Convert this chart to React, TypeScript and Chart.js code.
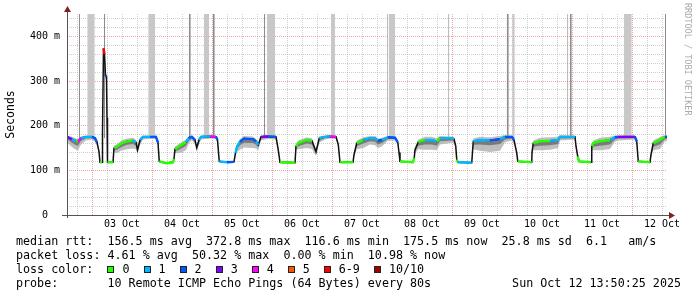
import React, { useEffect, useRef } from 'react';
import { Chart, registerables } from 'chart.js';

Chart.register(...registerables);

// ---- time axis (hours since 02 Oct 00:00) ----
const X_MIN = 14;
const X_MAX = 254;
const Y_MAX = 450;

// median rtt samples (ms) with loss class index
const hours = [
  14.0, 16.0, 17.6, 18.4, 19.6, 21.6, 24.0, 25.2, 26.0, 26.8,
  27.2, 28.0, 28.2, 28.6, 29.0, 29.4, 29.8, 30.0, 30.2, 32.4,
  32.8, 34.0, 36.0, 38.0, 40.4, 41.6, 42.2, 43.2, 44.4, 47.2,
  49.6, 50.4, 50.9, 53.6, 56.4, 56.8, 57.2, 59.2, 61.6, 62.8,
  64.0, 65.2, 65.9, 66.8, 67.6, 71.2, 73.6, 74.2, 74.9, 78.0,
  80.8, 81.4, 82.0, 83.2, 84.8, 88.4, 89.6, 90.5, 91.6, 94.4,
  97.6, 98.5, 99.2, 105.2, 105.6, 106.5, 109.9, 112.0, 113.6, 114.9,
  117.2, 119.2, 121.6, 122.5, 123.2, 128.4, 128.8, 129.9, 132.5, 135.2,
  137.2, 138.4, 140.0, 142.4, 145.2, 146.3, 146.8, 147.2, 152.4, 152.9,
  153.2, 154.5, 157.2, 159.9, 161.9, 163.2, 168.0, 168.8, 169.5, 169.9,
  170.4, 175.9, 176.5, 179.2, 183.2, 187.2, 189.2, 192.0, 192.8, 193.9,
  194.3, 199.9, 200.0, 200.5, 203.2, 207.2, 210.4, 211.2, 217.2, 217.6,
  218.3, 218.8, 223.6, 223.9, 224.5, 227.2, 231.2, 233.2, 234.4, 241.2,
  241.9, 242.5, 247.2, 247.6, 248.5, 251.2, 253.2, 254.0,
];
const median = [
  175, 170, 166, 165, 172, 175, 175, 172, 163, 142,
  118, 118, 184, 373, 360, 312, 310, 218, 118, 118,
  150, 153, 161, 165, 167, 163, 146, 168, 175, 175,
  175, 162, 120, 116, 118, 126, 148, 155, 163, 173,
  175, 168, 151, 168, 175, 176, 175, 168, 120, 118,
  119, 139, 153, 164, 171, 170, 165, 157, 175, 176,
  175, 146, 118, 117, 154, 161, 168, 166, 142, 172,
  175, 176, 175, 158, 118, 118, 135, 161, 168, 172,
  172, 166, 168, 174, 173, 163, 140, 120, 118, 128,
  146, 163, 168, 168, 165, 172, 172, 170, 154, 124,
  118, 117, 165, 168, 167, 170, 175, 175, 168, 139,
  120, 118, 140, 161, 165, 166, 168, 175, 175, 154,
  131, 120, 118, 154, 161, 165, 168, 174, 175, 175,
  165, 120, 118, 135, 161, 168, 175, 175,
];
const loss = [
  3, 1, 0, 4, 1, 1, 2, 2, 0, 0,
  0, 0, 4, 6, 6, 2, 2, 0, 0, 1,
  0, 0, 0, 0, 1, 1, 0, 1, 1, 2,
  2, 0, 0, 0, 0, 0, 0, 0, 1, 2,
  2, 1, 2, 1, 1, 4, 2, 2, 1, 2,
  1, 1, 1, 2, 2, 2, 1, 1, 3, 2,
  1, 0, 0, 0, 0, 0, 0, 1, 1, 1,
  1, 4, 1, 0, 0, 0, 0, 0, 1, 1,
  1, 2, 1, 2, 2, 0, 0, 0, 0, 0,
  0, 0, 1, 1, 0, 1, 1, 1, 0, 0,
  1, 1, 1, 1, 2, 1, 2, 2, 2, 0,
  0, 0, 0, 0, 0, 1, 1, 1, 2, 2,
  0, 0, 0, 0, 0, 0, 1, 2, 3, 2,
  0, 0, 0, 0, 0, 0, 2, 2,
];
// smoke spread around the median (ms)
const smokeUp = [
  3, 5, 5, 5, 4, 3, 3, 3, 3, 2,
  2, 2, 4, 4, 4, 4, 4, 3, 2, 2,
  5, 6, 7, 6, 6, 5, 5, 5, 3, 3,
  3, 3, 2, 2, 2, 2, 5, 6, 6, 4,
  3, 4, 4, 4, 3, 3, 3, 3, 2, 2,
  2, 3, 5, 6, 6, 6, 5, 5, 3, 3,
  3, 3, 2, 2, 4, 6, 6, 6, 5, 4,
  3, 3, 3, 3, 2, 2, 3, 6, 6, 5,
  5, 5, 5, 3, 3, 3, 2, 2, 2, 2,
  4, 6, 7, 7, 7, 5, 4, 4, 3, 2,
  2, 2, 6, 7, 7, 7, 4, 3, 3, 2,
  2, 2, 3, 6, 8, 8, 7, 4, 3, 3,
  2, 2, 2, 4, 6, 8, 7, 4, 3, 3,
  3, 2, 2, 3, 6, 7, 4, 4,
];
const smokeDown = [
  12, 18, 20, 20, 14, 8, 6, 8, 8, 4,
  2, 2, 4, 8, 8, 8, 8, 4, 2, 2,
  10, 14, 16, 18, 18, 16, 10, 12, 6, 5,
  5, 6, 2, 2, 2, 3, 10, 16, 18, 12,
  8, 10, 10, 10, 6, 5, 5, 6, 2, 2,
  2, 6, 12, 18, 20, 20, 16, 12, 8, 6,
  6, 6, 2, 2, 8, 14, 18, 18, 10, 10,
  6, 5, 5, 5, 2, 2, 6, 14, 18, 14,
  16, 16, 14, 8, 6, 6, 4, 2, 2, 4,
  8, 16, 22, 22, 20, 14, 10, 8, 6, 3,
  2, 2, 18, 24, 26, 26, 12, 8, 8, 4,
  2, 2, 6, 16, 20, 20, 18, 8, 6, 6,
  4, 2, 2, 8, 16, 20, 20, 10, 8, 6,
  6, 2, 2, 6, 16, 20, 10, 10,
];
const coreDown = [
  5, 8, 10, 10, 6, 3, 3, 4, 4, 2,
  1, 1, 2, 4, 4, 4, 4, 2, 1, 1,
  5, 7, 8, 8, 8, 8, 5, 6, 3, 2,
  2, 3, 1, 1, 1, 1, 5, 8, 8, 6,
  4, 5, 5, 5, 3, 2, 2, 3, 1, 1,
  1, 3, 6, 8, 9, 9, 8, 6, 4, 3,
  3, 3, 1, 1, 4, 7, 8, 8, 5, 5,
  3, 2, 2, 2, 1, 1, 3, 7, 8, 7,
  8, 8, 7, 4, 3, 3, 2, 1, 1, 2,
  4, 8, 10, 10, 10, 7, 5, 4, 3, 1,
  1, 1, 8, 10, 11, 11, 6, 4, 4, 2,
  1, 1, 3, 8, 10, 10, 9, 4, 3, 3,
  2, 1, 1, 4, 8, 10, 10, 5, 4, 3,
  3, 1, 1, 3, 8, 10, 5, 5,
];
// periods where smoke reaches above the graph (hours)
const barStart = [18.8, 22.1, 28.8, 46.5, 62.8, 68.8, 72.3, 92.8, 93.9, 119.5, 142.1, 142.8, 166.5, 189.9, 192.1, 214.1, 215.2, 236.8, 253.2];
const barEnd = [19.2, 25.1, 29.2, 49.2, 63.5, 70.8, 73.1, 93.2, 97.2, 121.2, 142.5, 145.2, 166.9, 190.7, 193.1, 214.5, 215.9, 239.9, 253.6];

const xLabelHours = [36, 60, 84, 108, 132, 156, 180, 204, 228, 252];
const xLabels = ['03 Oct', '04 Oct', '05 Oct', '06 Oct', '07 Oct', '08 Oct', '09 Oct', '10 Oct', '11 Oct', '12 Oct'];
const yLabelValues = [0, 100, 200, 300, 400];
const yLabels = ['0  ', '100 m', '200 m', '300 m', '400 m'];

const LOSS_COLORS = ['#26ff00', '#00b8ff', '#0059ff', '#7e00ff', '#ff00ff', '#ff5500', '#ff0000', '#a10000'];
const LOSS_LABELS = ['0', '1', '2', '3', '4', '5', '6-9', '10/10'];

const rttStats = ['156.5 ms avg', '372.8 ms max', '116.6 ms min', '175.5 ms now', '25.8 ms sd', '6.1   am/s'];
const lossStats = ['4.61 % avg', '50.32 % max', '0.00 % min', '10.98 % now'];
const probeText = '10 Remote ICMP Echo Pings (64 Bytes) every 80s';
const dateText = 'Sun Oct 12 13:50:25 2025';

const MONO = '"DejaVu Sans Mono", monospace';
const MINOR_GRID = 'rgba(160,160,160,0.5)';
const MAJOR_GRID = 'rgba(220,80,80,0.5)';

const axesPlugin = {
  id: 'rrdAxes',
  afterDatasetsDraw(chart: any) {
    const { ctx, chartArea: a, scales } = chart;
    const y0 = Math.round(scales.y.getPixelForValue(0)) + 0.5;
    const xl = Math.round(scales.x.getPixelForValue(X_MIN)) + 0.5;
    ctx.save();
    ctx.strokeStyle = '#555';
    ctx.lineWidth = 1;
    ctx.beginPath();
    ctx.moveTo(a.left - 5, y0);
    ctx.lineTo(a.right + 4, y0);
    ctx.moveTo(xl, a.bottom + 3);
    ctx.lineTo(xl, a.top - 3);
    ctx.stroke();
    ctx.fillStyle = '#802020';
    ctx.beginPath();
    ctx.moveTo(a.right + 2, y0 - 3.5);
    ctx.lineTo(a.right + 8, y0);
    ctx.lineTo(a.right + 2, y0 + 3.5);
    ctx.closePath();
    ctx.fill();
    ctx.beginPath();
    ctx.moveTo(xl - 3.5, a.top - 2);
    ctx.lineTo(xl, a.top - 8);
    ctx.lineTo(xl + 3.5, a.top - 2);
    ctx.closePath();
    ctx.fill();
    ctx.restore();
  },
};

export default function App() {
  const ref = useRef<HTMLCanvasElement>(null);

  useEffect(() => {
    if (!ref.current) return;
    const pts = (f: (i: number) => number) => hours.map((h, i) => ({ x: h, y: f(i) }));
    const barPts = (thin: boolean) => {
      const out: any[] = [];
      barStart.forEach((s, i) => {
        const e = barEnd[i];
        if ((e - s < 1) !== thin) return;
        out.push({ x: s, y: Y_MAX }, { x: e, y: Y_MAX }, { x: e, y: null });
      });
      return out;
    };
    const base = { pointRadius: 0, tension: 0, borderWidth: 0 };

    const chart = new Chart(ref.current, {
      type: 'line',
      data: {
        datasets: [
          {
            ...base,
            order: 0,
            data: pts((i) => median[i]),
            borderWidth: 2.4,
            borderColor: LOSS_COLORS[0],
            segment: {
              borderColor: (c: any) => {
                const a = median[c.p0DataIndex];
                const b = median[c.p1DataIndex];
                if (Math.abs(a - b) > 14) return 'rgba(0,0,0,0)';
                return LOSS_COLORS[loss[c.p0DataIndex]];
              },
            },
            fill: false,
          },
          {
            ...base,
            order: 1,
            data: pts((i) => median[i]),
            borderWidth: 1.5,
            borderColor: '#111',
            fill: false,
          },
          {
            ...base,
            order: 2,
            data: pts((i) => median[i] + 2),
            backgroundColor: 'rgba(100,100,100,0.75)',
            borderColor: 'rgba(0,0,0,0)',
            fill: 3,
          },
          {
            ...base,
            order: 3,
            data: pts((i) => median[i] - coreDown[i]),
            borderColor: 'rgba(0,0,0,0)',
            fill: false,
          },
          {
            ...base,
            order: 4,
            data: pts((i) => median[i] + smokeUp[i]),
            backgroundColor: 'rgba(170,170,170,0.75)',
            borderColor: 'rgba(0,0,0,0)',
            fill: 5,
          },
          {
            ...base,
            order: 5,
            data: pts((i) => median[i] - smokeDown[i]),
            borderColor: 'rgba(0,0,0,0)',
            fill: false,
          },
          {
            ...base,
            order: 6,
            data: barPts(false),
            backgroundColor: '#c8c8c8',
            borderColor: 'rgba(0,0,0,0)',
            fill: { value: 172 },
            spanGaps: false,
          },
          {
            ...base,
            order: 7,
            data: barPts(true),
            backgroundColor: '#8c8c8c',
            borderColor: 'rgba(0,0,0,0)',
            fill: { value: 172 },
            spanGaps: false,
          },
        ],
      },
      options: {
        animation: false,
        responsive: false,
        devicePixelRatio: 1,
        events: [],
        layout: { padding: { left: 0, top: 14, right: 30, bottom: 0 } },
        plugins: { legend: { display: false }, tooltip: { enabled: false } },
        scales: {
          x: {
            type: 'linear',
            min: X_MIN,
            max: X_MAX,
            afterFit: (s: any) => { s.height = 82; },
            afterBuildTicks: (s: any) => {
              const t: any[] = [];
              for (let v = 18; v <= 252; v += 6) t.push({ value: v });
              s.ticks = t;
            },
            ticks: {
              autoSkip: false,
              maxRotation: 0,
              minRotation: 0,
              padding: 3,
              color: '#000',
              font: { family: MONO, size: 10 },
              callback: (v: any) => {
                const i = xLabelHours.indexOf(Number(v));
                return i >= 0 ? xLabels[i] : '';
              },
            },
            grid: {
              drawTicks: false,
              lineWidth: 1,
              color: (c: any) => (c.tick && c.tick.value % 24 === 0 ? MAJOR_GRID : MINOR_GRID),
            },
            border: { display: false, dash: [1, 1] },
          },
          y: {
            type: 'linear',
            min: 0,
            max: Y_MAX,
            afterFit: (s: any) => { s.width = 67; },
            afterBuildTicks: (s: any) => {
              const t: any[] = [];
              for (let v = 0; v <= 440; v += 20) t.push({ value: v });
              s.ticks = t;
            },
            ticks: {
              autoSkip: false,
              padding: 7,
              color: '#000',
              font: { family: MONO, size: 10 },
              callback: (v: any) => {
                const i = yLabelValues.indexOf(Number(v));
                return i >= 0 ? yLabels[i] : '';
              },
            },
            title: {
              display: true,
              text: 'Seconds',
              color: '#000',
              font: { family: MONO, size: 11.5 },
              padding: { top: 4, bottom: 0 },
            },
            grid: {
              drawTicks: false,
              lineWidth: 1,
              color: (c: any) => (c.tick && c.tick.value % 100 === 0 ? MAJOR_GRID : MINOR_GRID),
            },
            border: { display: false, dash: [1, 1] },
          },
        },
      } as any,
      plugins: [axesPlugin],
    } as any);
    return () => chart.destroy();
  }, []);

  const rowStyle: React.CSSProperties = {
    position: 'absolute',
    left: 16,
    height: 14,
    lineHeight: '14px',
    whiteSpace: 'pre',
    font: `11.7px ${MONO}`,
    color: '#000',
    display: 'flex',
    alignItems: 'center',
  };

  return (
    <div style={{ position: 'absolute', left: 0, top: 0, width: 697, height: 297, background: '#fff', overflow: 'hidden' }}>
      <canvas ref={ref} width={697} height={297} style={{ position: 'absolute', left: 0, top: 0 }} />
      <div style={{ ...rowStyle, top: 234 }}>{'median rtt:  ' + rttStats.join('  ')}</div>
      <div style={{ ...rowStyle, top: 248 }}>{'packet loss: ' + lossStats.join('  ')}</div>
      <div style={{ ...rowStyle, top: 262 }}>
        <span>{'loss color:  '}</span>
        {LOSS_LABELS.map((l, i) => (
          <span key={l} style={{ display: 'inline-flex', alignItems: 'center', marginRight: 14 }}>
            <span style={{ display: 'inline-block', width: 7, height: 7, boxSizing: 'border-box', border: '1px solid #222', background: LOSS_COLORS[i], marginRight: 8 }} />
            <span>{l}</span>
          </span>
        ))}
      </div>
      <div style={{ ...rowStyle, top: 276, width: 665, justifyContent: 'space-between' }}>
        <span>{'probe:       ' + probeText}</span>
        <span>{dateText}</span>
      </div>
      <div style={{ position: 'absolute', left: 683, top: 3, writingMode: 'vertical-rl', font: `8.5px ${MONO}`, color: '#aaa', whiteSpace: 'pre', lineHeight: '10px' }}>
        RRDTOOL / TOBI OETIKER
      </div>
    </div>
  );
}
